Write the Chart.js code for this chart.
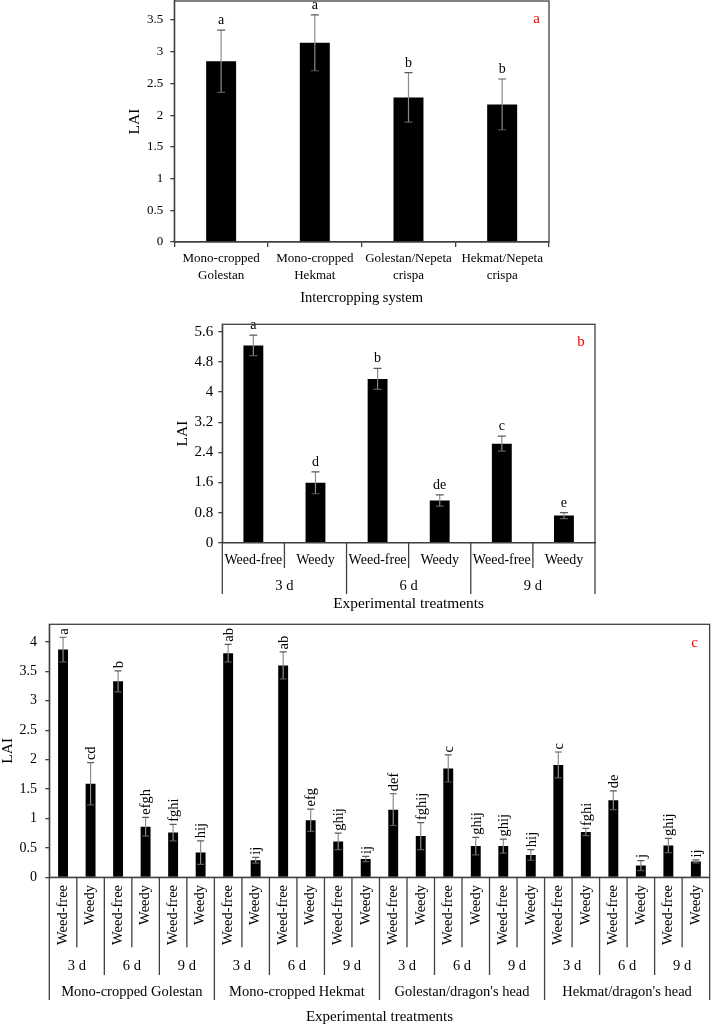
<!DOCTYPE html>
<html>
<head>
<meta charset="utf-8">
<title>LAI</title>
<script src="https://cdn.jsdelivr.net/npm/chart.js@4.4.1/dist/chart.umd.min.js"></script>
<style>
  html, body { margin: 0; padding: 0; background: #fff; overflow: hidden; }
  body { width: 721px; height: 1025px; position: relative; }
  .wrap { position: absolute; left: 0; width: 721px; }
  #wrapA { top: -20px; height: 330px; }
  #wrapB { top: 300px; height: 315px; }
  #wrapC { top: 600px; height: 425px; }
</style>
</head>
<body>
<div class="wrap" id="wrapA"><canvas id="chartA" width="721" height="330"></canvas></div>
<div class="wrap" id="wrapB"><canvas id="chartB" width="721" height="315"></canvas></div>
<div class="wrap" id="wrapC"><canvas id="chartC" width="721" height="425"></canvas></div>
<script>
// ---- data: panel a (intercropping system) ----
const systemsA = [['Mono-cropped', 'Golestan'], ['Mono-cropped', 'Hekmat'], ['Golestan/Nepeta', 'crispa'], ['Hekmat/Nepeta', 'crispa']];
const laiA = [2.85, 3.14, 2.28, 2.17];
const errA = [0.49, 0.44, 0.39, 0.40];
const lettersA = ['a', 'a', 'b', 'b'];
const ticksA = [0, 0.5, 1, 1.5, 2, 2.5, 3, 3.5];

// ---- data: panel b (weed interference) ----
const treatB = ['Weed-free', 'Weedy', 'Weed-free', 'Weedy', 'Weed-free', 'Weedy'];
const daysB = ['3 d', '6 d', '9 d'];
const laiB = [5.24, 1.59, 4.35, 1.12, 2.63, 0.72];
const errB = [0.27, 0.29, 0.28, 0.15, 0.20, 0.08];
const lettersB = ['a', 'd', 'b', 'de', 'c', 'e'];
const ticksB = [0, 0.8, 1.6, 2.4, 3.2, 4, 4.8, 5.6];

// ---- data: panel c (system x weed interference) ----
const treatC = ['Weed-free', 'Weedy', 'Weed-free', 'Weedy', 'Weed-free', 'Weedy',
                'Weed-free', 'Weedy', 'Weed-free', 'Weedy', 'Weed-free', 'Weedy',
                'Weed-free', 'Weedy', 'Weed-free', 'Weedy', 'Weed-free', 'Weedy',
                'Weed-free', 'Weedy', 'Weed-free', 'Weedy', 'Weed-free', 'Weedy'];
const daysC = ['3 d', '6 d', '9 d', '3 d', '6 d', '9 d', '3 d', '6 d', '9 d', '3 d', '6 d', '9 d'];
const systemsC = ['Mono-cropped Golestan', 'Mono-cropped Hekmat', "Golestan/dragon's head", "Hekmat/dragon's head"];
const laiC = [3.87, 1.59, 3.33, 0.86, 0.76, 0.42,
              3.81, 0.29, 3.60, 0.97, 0.61, 0.31,
              1.15, 0.70, 1.85, 0.53, 0.53, 0.38,
              1.91, 0.77, 1.31, 0.20, 0.54, 0.27];
const errC = [0.21, 0.36, 0.18, 0.16, 0.14, 0.20,
              0.15, 0.05, 0.23, 0.19, 0.14, 0.045,
              0.27, 0.23, 0.23, 0.15, 0.12, 0.09,
              0.22, 0.06, 0.16, 0.085, 0.12, 0.025];
const lettersC = ['a', 'cd', 'b', 'efgh', 'fghi', 'hij',
                  'ab', 'ij', 'ab', 'efg', 'ghij', 'ij',
                  'def', 'fghij', 'c', 'ghij', 'ghij', 'hij',
                  'c', 'fghi', 'de', 'j', 'ghij', 'ij'];
const ticksC = [0, 0.5, 1, 1.5, 2, 2.5, 3, 3.5, 4];

const FONT = '"Liberation Serif", "Times New Roman", serif';
const AXIS = '#404040';

// error bars drawn from the bar elements and the y scale
function errorBars(errs, cap) {
  return {
    id: 'errorBars',
    afterDatasetsDraw(chart) {
      const ctx = chart.ctx, ys = chart.scales.y;
      const vals = chart.data.datasets[0].data;
      ctx.save();
      ctx.lineWidth = 1.2;
      chart.getDatasetMeta(0).data.forEach((bar, i) => {
        const top = ys.getPixelForValue(vals[i] + errs[i]);
        const bot = ys.getPixelForValue(vals[i] - errs[i]);
        ctx.strokeStyle = '#8c8c8c';
        ctx.beginPath(); ctx.moveTo(bar.x, top); ctx.lineTo(bar.x, bot); ctx.stroke();
        ctx.strokeStyle = '#5a5a5a';
        ctx.beginPath();
        ctx.moveTo(bar.x - cap / 2, top); ctx.lineTo(bar.x + cap / 2, top);
        ctx.moveTo(bar.x - cap / 2, bot); ctx.lineTo(bar.x + cap / 2, bot);
        ctx.stroke();
      });
      ctx.restore();
    }
  };
}

// significance letters above the error bars
function letterLabels(letters, errs, size, rotate) {
  return {
    id: 'letters',
    afterDatasetsDraw(chart) {
      const ctx = chart.ctx, ys = chart.scales.y;
      const vals = chart.data.datasets[0].data;
      ctx.save();
      ctx.fillStyle = '#000';
      ctx.font = size + 'px ' + FONT;
      chart.getDatasetMeta(0).data.forEach((bar, i) => {
        const top = ys.getPixelForValue(vals[i] + errs[i]);
        if (rotate) {
          ctx.save();
          ctx.translate(bar.x + 1, top - 2.5);
          ctx.rotate(-Math.PI / 2);
          ctx.textAlign = 'left';
          ctx.textBaseline = 'middle';
          ctx.fillText(letters[i], 0, 0);
          ctx.restore();
        } else {
          ctx.textAlign = 'center';
          ctx.textBaseline = 'alphabetic';
          ctx.fillText(letters[i], bar.x, top - 6);
        }
      });
      ctx.restore();
    }
  };
}

// box around the plot and the red panel letter
function frame(tag, dx, dy) {
  return {
    id: 'frame',
    afterDraw(chart) {
      const ctx = chart.ctx, a = chart.chartArea;
      ctx.save();
      ctx.strokeStyle = AXIS;
      ctx.lineWidth = 1.3;
      ctx.strokeRect(a.left, a.top, a.right - a.left, a.bottom - a.top);
      ctx.fillStyle = '#ff0000';
      ctx.font = '15px ' + FONT;
      ctx.textAlign = 'center';
      ctx.textBaseline = 'middle';
      ctx.fillText(tag, a.right - dx, a.top + dy);
      ctx.restore();
    }
  };
}

// grouped category labels under the x axis
function levels(cfg) {
  return {
    id: 'levels',
    afterDraw(chart) {
      const ctx = chart.ctx, xs = chart.scales.x;
      const n = chart.data.labels.length;
      const w = (xs.right - xs.left) / n;
      const base = xs.top;
      ctx.save();
      ctx.strokeStyle = AXIS;
      ctx.lineWidth = 1.3;
      for (let k = 0; k <= n; k++) {
        let len = cfg.sep[0];
        cfg.spans.forEach((s, j) => { if (k % s === 0) len = cfg.sep[j + 1]; });
        const x = xs.left + k * w;
        ctx.beginPath(); ctx.moveTo(x, base); ctx.lineTo(x, base + len); ctx.stroke();
      }
      ctx.fillStyle = '#000';
      ctx.textAlign = 'center';
      ctx.textBaseline = 'middle';
      ctx.font = cfg.size + 'px ' + FONT;
      cfg.rows.forEach((row, j) => {
        const span = cfg.spans[j];
        row.labels.forEach((t, i) => {
          ctx.fillText(t, xs.left + (i + 0.5) * span * w, base + row.dy);
        });
      });
      ctx.restore();
    }
  };
}

function yAxis(max, ticks, width, size, pad, titlePad) {
  return {
    min: 0, max: max,
    afterBuildTicks: s => { s.ticks = ticks.map(v => ({ value: v })); },
    afterFit: s => { s.width = width; },
    grid: { display: true, drawOnChartArea: false, drawTicks: true, tickLength: 4, color: AXIS, lineWidth: 1.3 },
    border: { display: true, color: AXIS, width: 1.3 },
    ticks: { color: '#000', font: { family: FONT, size: size }, padding: pad, callback: v => String(v) },
    title: { display: true, text: 'LAI', color: '#000', font: { family: FONT, size: 15.5, lineHeight: 1 }, padding: { top: titlePad, bottom: 0 } }
  };
}

function xTitle(text, size, pad) {
  return { display: true, text: text, color: '#000', font: { family: FONT, size: size, lineHeight: 1 }, padding: { top: 0, bottom: pad } };
}

function barData(labels, values, pct) {
  return {
    labels: labels,
    datasets: [{ data: values, backgroundColor: '#000', borderWidth: 0, barPercentage: pct, categoryPercentage: 1 }]
  };
}

const common = {
  responsive: false,
  animation: false,
  plugins: { legend: { display: false }, tooltip: { enabled: false } }
};

// panel a
new Chart(document.getElementById('chartA'), {
  type: 'bar',
  data: barData(systemsA, laiA, 0.32),
  options: Object.assign({}, common, {
    layout: { padding: { top: 21, left: 114.3, right: 172, bottom: 0 } },
    scales: {
      x: {
        afterFit: s => { s.height = 68; },
        grid: { display: true, drawOnChartArea: false, offset: true, tickLength: 5, color: AXIS, lineWidth: 1.3 },
        border: { display: true, color: AXIS, width: 1.3 },
        ticks: { color: '#000', font: { family: FONT, size: 13, lineHeight: 1.3 }, padding: 3.5, maxRotation: 0, autoSkip: false },
        title: xTitle('Intercropping system', 14.5, 4.8)
      },
      y: yAxis(3.8, ticksA, 60, 13, 7, 13)
    }
  }),
  plugins: [errorBars(errA, 8), letterLabels(lettersA, errA, 14, false), frame('a', 12.3, 18)]
});

// panel b
new Chart(document.getElementById('chartB'), {
  type: 'bar',
  data: barData(treatB, laiB, 0.32),
  options: Object.assign({}, common, {
    layout: { padding: { top: 24.3, left: 172.3, right: 126, bottom: 0 } },
    scales: {
      x: {
        afterFit: s => { s.height = 72.3; },
        grid: { display: false, drawTicks: false },
        border: { display: true, color: AXIS, width: 1.3 },
        ticks: { color: '#000', font: { family: FONT, size: 14, lineHeight: 1.2 }, padding: 9.6, maxRotation: 0, autoSkip: false },
        title: xTitle('Experimental treatments', 15.4, 3.3)
      },
      y: yAxis(5.8, ticksB, 50, 15, 5, 3.2)
    }
  }),
  plugins: [errorBars(errB, 8), letterLabels(lettersB, errB, 14, false), frame('b', 14, 17.7),
            levels({ spans: [2], sep: [25.3, 51.3], size: 14.5, rows: [{ labels: daysB, dy: 43.3 }] })]
});

// panel c
new Chart(document.getElementById('chartC'), {
  type: 'bar',
  data: barData(treatC, laiC, 0.36),
  options: Object.assign({}, common, {
    layout: { padding: { top: 24.3, left: 0, right: 1, bottom: 0 } },
    scales: {
      x: {
        afterFit: s => { s.height = 147.7; },
        grid: { display: false, drawTicks: false },
        border: { display: true, color: AXIS, width: 1.3 },
        ticks: { color: '#000', font: { family: FONT, size: 14.5, lineHeight: 1.2 }, padding: 7.7, minRotation: 90, maxRotation: 90, autoSkip: false },
        title: xTitle('Experimental treatments', 15, 0.8)
      },
      y: yAxis(4.3, ticksC, 49.3, 14, 8.3, 0.5)
    }
  }),
  plugins: [errorBars(errC, 7), letterLabels(lettersC, errC, 14.5, true), frame('c', 15, 19),
            levels({ spans: [2, 6], sep: [70, 97.7, 122.7], size: 14.5,
                     rows: [{ labels: daysC, dy: 88.4 }, { labels: systemsC, dy: 114.4 }] })]
});
</script>
</body>
</html>
